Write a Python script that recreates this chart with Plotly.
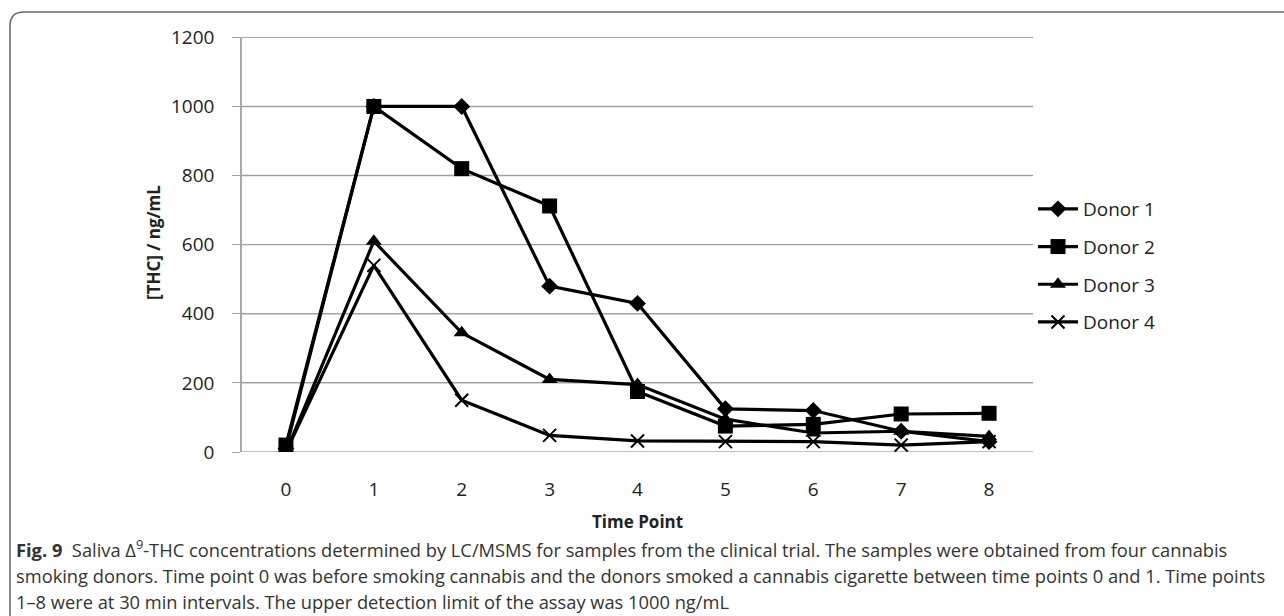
import plotly.graph_objects as go

time_points = [0, 1, 2, 3, 4, 5, 6, 7, 8]
donor1 = [10, 1000, 1000, 480, 430, 125, 120, 60, 30]
donor2 = [20, 1000, 820, 712, 175, 75, 80, 110, 112]
donor3 = [0, 610, 345, 210, 195, 95, 55, 60, 45]
donor4 = [0, 540, 150, 48, 32, 30, 30, 20, 30]
series_names = ["Donor 1", "Donor 2", "Donor 3", "Donor 4"]
y_ticks = [0, 200, 400, 600, 800, 1000, 1200]

W, H = 1284, 616
L, R, T, B = 242, 1033, 37, 452

def px_x(p):
    return (p - L) / (R - L)

def px_y(p):
    return (B - p) / (B - T)

fig = go.Figure()
styles = [
    dict(symbol="diamond", size=13),
    dict(symbol="square", size=15),
    dict(symbol="triangle-up", size=14),
    dict(symbol="x-thin", size=13),
]
for i, (name, vals) in enumerate(zip(series_names, [donor1, donor2, donor3, donor4])):
    st = styles[i]
    marker = dict(symbol=st["symbol"], size=st["size"], color="black")
    if st["symbol"] == "x-thin":
        marker["line"] = dict(width=2, color="black")
    else:
        marker["line"] = dict(width=0)
    fig.add_trace(go.Scatter(
        x=time_points, y=vals, name=name, mode="lines+markers",
        line=dict(color="black", width=3.2), marker=marker,
        legendgroup=name,
    ))

fig.update_layout(
    width=W, height=H,
    margin=dict(l=L, r=W - R, t=T, b=H - B),
    paper_bgcolor="white", plot_bgcolor="white",
    font=dict(family="Open Sans", color="#222222", size=19),
    showlegend=True,
    legend=dict(x=1.0, xanchor="left", y=px_y(190), yanchor="top",
                font=dict(size=19, family="Open Sans", color="#222222"),
                tracegroupgap=10, itemwidth=40, bgcolor="rgba(0,0,0,0)"),
    xaxis=dict(range=[-0.5, 8.5], tickvals=time_points, ticktext=[str(t) for t in time_points],
               showgrid=False, zeroline=False, showline=False, ticks="",
               ticklabelstandoff=24, tickfont=dict(size=19)),
    yaxis=dict(range=[0, 1201], tickvals=y_ticks, showgrid=True, gridcolor="#a0a0a0",
               gridwidth=1, zeroline=False, showline=True, linecolor="#a8a8a8", linewidth=1.5,
               ticks="outside", ticklen=8, tickcolor="#a0a0a0", tickwidth=1,
               ticklabelstandoff=14, tickfont=dict(size=19)),
)

# reinforce horizontal gridlines at each y tick
for v in y_ticks:
    fig.add_shape(type="line", xref="x domain", yref="y", x0=0, x1=1, y0=v, y1=v,
                  line=dict(color="#a8a8a8", width=1.4), layer="below")

# y-axis title
fig.add_annotation(x=px_x(153), y=px_y(243), xref="paper", yref="paper",
                   text="<b>[THC] / ng/mL</b>", textangle=-90, showarrow=False,
                   font=dict(size=17, family="Open Sans", color="#222222"),
                   xanchor="center", yanchor="middle")
# x-axis title
fig.add_annotation(x=px_x(637), y=px_y(521), xref="paper", yref="paper",
                   text="<b>Time Point</b>", showarrow=False,
                   font=dict(size=17, family="Open Sans", color="#222222"),
                   xanchor="center", yanchor="middle")

caption_lines = [
    "<b>Fig. 9</b>  Saliva Δ<sup>9</sup>-THC concentrations determined by LC/MSMS for samples from the clinical trial. The samples were obtained from four cannabis",
    "smoking donors. Time point 0 was before smoking cannabis and the donors smoked a cannabis cigarette between time points 0 and 1. Time points",
    "1–8 were at 30 min intervals. The upper detection limit of the assay was 1000 ng/mL",
]
for j, (line, yc) in enumerate(zip(caption_lines, [548, 575, 601])):
    fig.add_annotation(x=px_x(14), y=px_y(yc), xref="paper", yref="paper",
                       text=line, showarrow=False, align="left",
                       font=dict(size=18.3, family="Open Sans", color="#333333"),
                       xanchor="left", yanchor="middle")

# rounded frame (top and left sides)
fig.add_shape(type="path", xref="paper", yref="paper",
              path=f"M {px_x(10)} {px_y(616)} L {px_x(10)} {px_y(26)} Q {px_x(10)} {px_y(12)} {px_x(24)} {px_y(12)} L {px_x(1284)} {px_y(12)}",
              line=dict(color="#666666", width=1.5))

fig.write_html("out.html")
